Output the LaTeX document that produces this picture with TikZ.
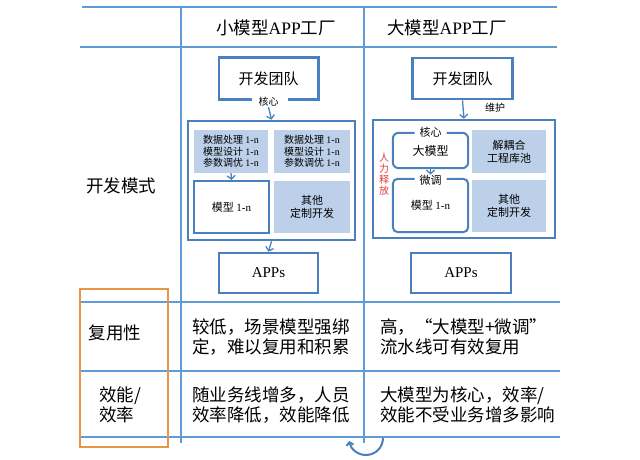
\documentclass[tikz,border=0pt]{standalone}
\usepackage{fontspec}
\setmainfont{Liberation Serif}
\newfontfamily\cjk{Noto Sans CJK SC}
\usetikzlibrary{arrows.meta,calc}
\definecolor{tlinec}{RGB}{95,155,213}
\definecolor{blinec}{RGB}{75,128,190}
\definecolor{shadec}{RGB}{188,208,233}
\definecolor{orngc}{RGB}{230,150,70}
\definecolor{redc}{RGB}{225,60,60}
\newcommand{\fsz}[2]{\fontsize{#1}{#2}\selectfont}
\newcommand{\lat}[1]{{\rmfamily #1}}
\begin{document}
\begin{tikzpicture}[x=1pt,y=-1pt,
  tline/.style={draw=tlinec,line width=1.6pt},
  boxline/.style={draw=blinec,line width=2.6pt},
  thinbox/.style={draw=blinec,line width=2pt},
  shadebox/.style={fill=shadec,inner sep=0pt,align=center,font=\cjk\fsz{10}{11.5}},
  emptybox/.style={inner sep=0pt,align=center},
  smalltxt/.style={inner sep=1pt,font=\cjk\fsz{10}{11.5},align=center},
  bigtxt/.style={inner sep=0pt,font=\cjk\fsz{17.5}{20},align=left},
  arr/.style={draw=blinec,line width=1.3pt,-{Straight Barb[length=3.5pt,width=8pt]}}]
\useasboundingbox (0,0) rectangle (640,460);
\fill[white] (0,0) rectangle (640,460);

% table lines
\coordinate (h0l) at (82,7);   \coordinate (h0r) at (557,7);
\coordinate (h1l) at (80,47);  \coordinate (h1r) at (557,47);
\coordinate (h2l) at (80,302); \coordinate (h2r) at (560,302);
\coordinate (h3l) at (80,371); \coordinate (h3r) at (560,371);
\coordinate (h4l) at (80,437); \coordinate (h4r) at (560,437);
\coordinate (v1t) at (181,7);  \coordinate (v1b) at (181,443);
\coordinate (v2t) at (364,7);  \coordinate (v2b) at (364,443);
\draw[tline] (h0l) -- (h0r);
\draw[tline] (h1l) -- (h1r);
\draw[tline] (h2l) -- (h2r);
\draw[tline] (h3l) -- (h3r);
\draw[tline] (h4l) -- (h4r);
\draw[tline] (v1t) -- (v1b);
\draw[tline] (v2t) -- (v2b);

% orange box
\node[draw=orngc,line width=2.6pt,minimum width=88pt,minimum height=158pt,inner sep=0pt] (orange) at (124,368) {};

% headers
\node[bigtxt] (hd1) at (276,28) {小模型\lat{APP}工厂};
\node[bigtxt] (hd2) at (447,28) {大模型\lat{APP}工厂};

% row labels
\node[bigtxt] (r1) at (121,186) {开发模式};
\node[bigtxt] (r2) at (115,333) {复用性};
\node[bigtxt,anchor=west] (r3) at (99,405) {效能/\\效率};

% cell texts
\node[bigtxt,anchor=west] (c11) at (192,337) {较低，场景模型强绑\\定，难以复用和积累};
\node[bigtxt,anchor=west] (c12) at (380,337) {高，“大模型+微调”\\流水线可有效复用};
\node[bigtxt,anchor=west] (c21) at (192,405) {随业务线增多，人员\\效率降低，效能降低};
\node[bigtxt,anchor=west] (c22) at (380,405) {大模型为核心，效率/\\效能不受业务增多影响};

% ---- left column ----
\node[emptybox,minimum width=99pt,minimum height=41pt,font=\cjk\fsz{15}{18}] (dev1) at (268.5,78.5) {开发团队};
\draw[boxline] ($(dev1.south)+(-17,0)$) -| (dev1.north west) -| (dev1.south east) -- ($(dev1.south)+(19,0)$);
\node[smalltxt] (hx1) at ($(dev1.south)+(0,2)$) {核心};
\node[boxline,minimum width=167pt,minimum height=119pt,inner sep=0pt] (cont1) at (271.5,180.5) {};
\draw[arr] (hx1.south) -- (cont1.north);
\node[shadebox,minimum width=74pt,minimum height=43pt] (a1) at (231,151.5) {数据处理 \lat{1-n}\\模型设计 \lat{1-n}\\参数调优 \lat{1-n}};
\node[shadebox,minimum width=76pt,minimum height=43pt] (a2) at (312,151.5) {数据处理 \lat{1-n}\\模型设计 \lat{1-n}\\参数调优 \lat{1-n}};
\node[thinbox,emptybox,minimum width=75pt,minimum height=52pt,font=\cjk\fsz{11}{13}] (b1) at (231.5,207) {模型 \lat{1-n}};
\node[shadebox,minimum width=76pt,minimum height=52pt,font=\cjk\fsz{11}{12.5}] (b2) at (312,207) {其他\\定制开发};
\draw[arr] (a1.south) -- (b1.north);
\node[boxline,emptybox,minimum width=99pt,minimum height=40pt,font=\fsz{15}{18}] (apps1) at (268.5,273) {APPs};
\draw[arr] (cont1.south) -- (apps1.north);

% ---- right column ----
\node[boxline,emptybox,minimum width=100pt,minimum height=41pt,font=\cjk\fsz{15}{18}] (dev2) at (462.5,78.5) {开发团队};
\node[boxline,minimum width=182pt,minimum height=118pt,inner sep=0pt] (cont2) at (464,179) {};
\draw[arr] (dev2.south) -- (cont2.north);
\node[smalltxt,anchor=west] (wh) at (484,108) {维护};
\node[emptybox,minimum width=75pt,minimum height=35pt,font=\cjk\fsz{12}{14}] (k1) at (430.5,150.5) {\raisebox{-2pt}{大模型}};
\draw[thinbox,rounded corners=6pt] ($(k1.north)+(-16,0)$) -| (k1.south west) -| (k1.north east) -- ($(k1.north)+(16,0)$);
\node[smalltxt,font=\cjk\fsz{11}{13}] (hx2) at (k1.north) {核心};
\node[emptybox,minimum width=75pt,minimum height=53pt,font=\cjk\fsz{11}{13}] (k2) at (430.5,205.5) {模型 \lat{1-n}};
\draw[thinbox,rounded corners=5pt] ($(k2.north)+(-16,0)$) -| (k2.south west) -| (k2.north east) -- ($(k2.north)+(16,0)$);
\node[smalltxt,font=\cjk\fsz{11}{13}] (wt) at ($(k2.north)+(0,2)$) {微调};
\draw[arr] (k1.south) -- (wt.north);
\node[shadebox,minimum width=74pt,minimum height=43pt,font=\cjk\fsz{11}{13}] (d1) at (509,151.5) {解耦合\\工程库池};
\node[shadebox,minimum width=74pt,minimum height=52pt,font=\cjk\fsz{11}{12.5}] (d2) at (509,206) {其他\\定制开发};
\node[smalltxt,text=redc,font=\cjk\fsz{10}{11}] (rl) at (384,174) {人\\力\\释\\放};
\node[boxline,emptybox,minimum width=100pt,minimum height=40pt,font=\fsz{15}{18}] (apps2) at (461,273) {APPs};

% small circular arrow at bottom
\coordinate (arcs) at (383,438);
\draw[draw=blinec,line width=2pt,-{Straight Barb[length=3pt,width=7pt]}] (arcs) arc[start angle=0,end angle=170,radius=17];
\end{tikzpicture}
\end{document}
